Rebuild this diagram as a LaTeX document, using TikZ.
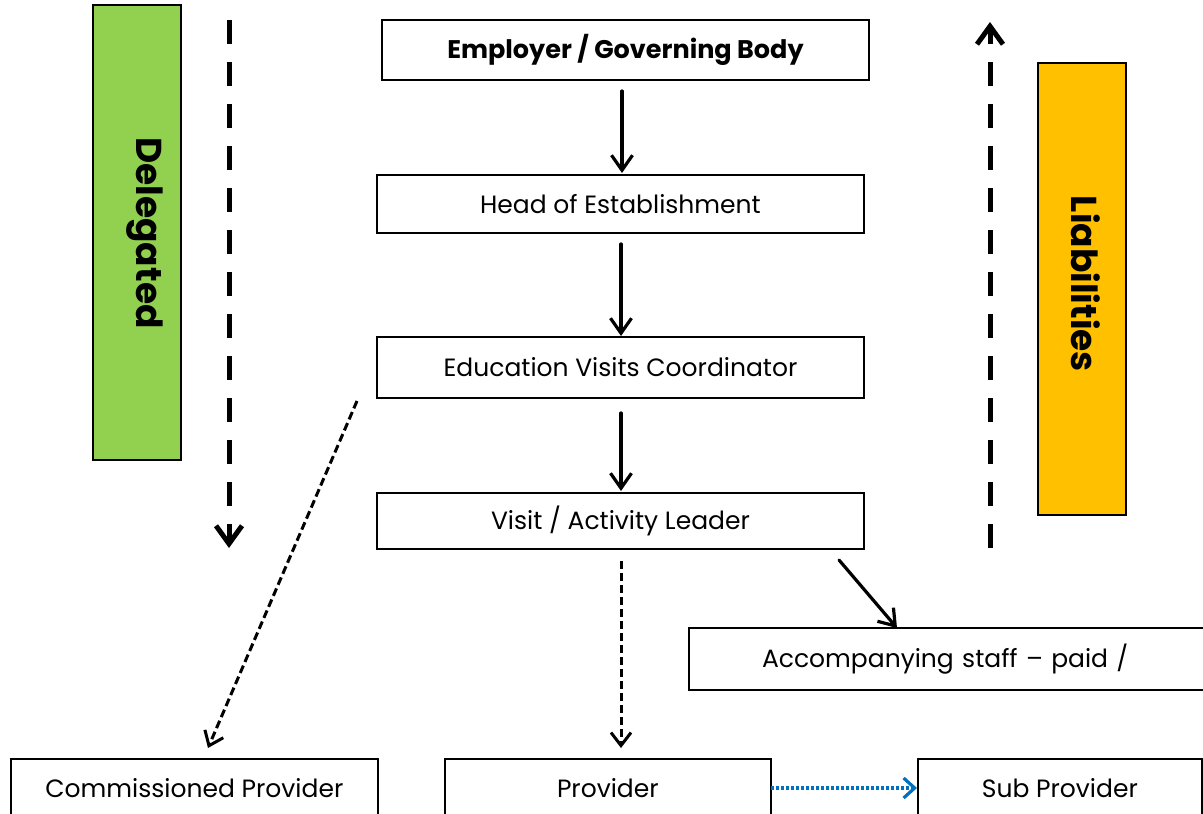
\documentclass[tikz,border=0pt]{standalone}
\usepackage{fontspec}
\setmainfont{Poppins}
\usetikzlibrary{arrows.meta}
\definecolor{gfill}{RGB}{146,208,80}
\definecolor{ofill}{RGB}{255,192,0}
\definecolor{bluel}{RGB}{0,112,192}
\tikzset{
  box/.style={draw=black, line width=1.7pt, fill=white, inner sep=0pt, font=\fontsize{25}{28}\selectfont},
  bar/.style={draw=black, line width=1.7pt, inner sep=0pt},
  bartext/.style={rotate=-90, font=\bfseries\fontsize{36}{40}\selectfont},
  solidarr/.style={line width=3.2pt, -{Straight Barb[length=15pt,width=21pt,line width=3.2pt]}, line cap=round},
  thindash/.style={line width=3pt, dash pattern=on 8pt off 4pt, -{Straight Barb[length=13pt,width=20pt,line width=3pt]}},
  bigdash/.style={line width=5pt, dash pattern=on 24pt off 18pt, -{Straight Barb[length=18pt,width=26pt,line width=5pt]}},
  bluedot/.style={bluel, line width=3.4pt, dash pattern=on 3pt off 2pt, -{Straight Barb[length=11pt,width=20pt,line width=3.2pt]}}
}
\begin{document}
\begin{tikzpicture}[x=1pt,y=-1pt]
\useasboundingbox (0,0) rectangle (1203,814);
% side bars
\node[bar, fill=gfill, minimum width=88pt, minimum height=455pt] (gbox) at (137,232.5) {};
\node[bartext] (gtxt) at (145,233) {Delegated};
\node[bar, fill=ofill, minimum width=88pt, minimum height=452pt] (obox) at (1082,289) {};
\node[bartext] (otxt) at (1086,284) {Liabilities};
% main boxes
\node[box, minimum width=487pt, minimum height=60pt, font=\bfseries\fontsize{25.5}{28}\selectfont] (emp) at (625.5,50) {Employer / Governing Body};
\node[box, minimum width=487pt, minimum height=58pt] (head) at (620.5,204) {Head of Establishment};
\node[box, minimum width=487pt, minimum height=61pt] (evc) at (620.5,367.5) {Education Visits Coordinator};
\node[box, minimum width=487pt, minimum height=56pt] (visit) at (620.5,521) {Visit / Activity Leader};
\node[box, minimum width=540pt, minimum height=62pt, text width=540pt, align=left] (acc) at (959,659) {\hspace*{73pt}Accompanying staff – paid /};
\node[box, minimum width=367pt, minimum height=58pt, anchor=north west] (comm) at (10,758) {Commissioned Provider};
\node[box, minimum width=326pt, minimum height=58pt, anchor=north west] (prov) at (444,758) {Provider};
\node[box, minimum width=284pt, minimum height=58pt, anchor=north west] (sub) at (917,758) {Sub Provider};
% arrow end points
\coordinate (a1s) at (622,91);  \coordinate (a1e) at (622,173);
\coordinate (a2s) at (621,244); \coordinate (a2e) at (621,336);
\coordinate (a3s) at (621,413); \coordinate (a3e) at (621,491);
\coordinate (a4s) at (621,561); \coordinate (a4e) at (621,748);
\coordinate (a5s) at (357,401); \coordinate (a5e) at (208,748);
\coordinate (a6s) at (839,560); \coordinate (a6e) at (897,628);
\coordinate (a7s) at (771,788); \coordinate (a7e) at (917,788);
\coordinate (l1s) at (229,20);  \coordinate (l1e) at (229,548);
\coordinate (r1s) at (990,548); \coordinate (r1e) at (990,22);
\draw[solidarr] (a1s) -- (a1e);
\draw[solidarr] (a2s) -- (a2e);
\draw[solidarr] (a3s) -- (a3e);
\draw[thindash] (a4s) -- (a4e);
\draw[thindash] (a5s) -- (a5e);
\draw[solidarr] (a6s) -- (a6e);
\draw[bluedot] (a7s) -- (a7e);
\draw[bigdash] (l1s) -- (l1e);
\draw[bigdash] (r1s) -- (r1e);
\end{tikzpicture}
\end{document}
